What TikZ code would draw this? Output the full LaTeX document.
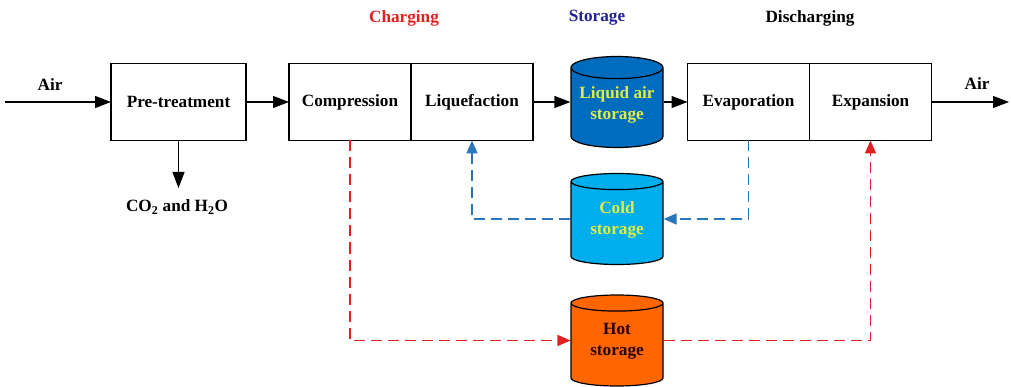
\documentclass[tikz,border=0pt]{standalone}
\usepackage{fontspec}
\setmainfont{Liberation Serif}
\usetikzlibrary{arrows.meta,positioning,shapes.geometric}
\definecolor{chargered}{RGB}{226,32,32}
\definecolor{coldline}{RGB}{42,118,186}
\definecolor{liqblue}{RGB}{0,108,190}
\definecolor{coldblue}{RGB}{0,174,238}
\definecolor{hotorange}{RGB}{255,102,0}
\definecolor{tanktext}{RGB}{222,238,70}
\definecolor{storenavy}{RGB}{34,34,150}
% two lines of tank text, lifted onto the middle of the body
\newcommand{\tanklines}[2]{\raisebox{5pt}[\height][\depth]{\begin{tabular}{@{}c@{}}#1\\#2\end{tabular}}}
\tikzset{>=Triangle}
\tikzset{
  process/.style={draw, line width=1.2pt, minimum width=122, minimum height=77,
    inner sep=0pt, outer sep=0pt},
  tank/.style={cylinder, shape border rotate=90, draw, line width=1.2pt,
    aspect=0.28, minimum height=91, minimum width=92, inner sep=2pt,
    anchor=shape center},
  flow/.style={line width=1.2pt, -{Triangle[length=16pt,width=12pt]}},
  heatflow/.style={chargered, line width=1.7pt, dash pattern=on 11pt off 6pt,
    -{Triangle[length=13pt,width=11pt]}},
  coldflow/.style={coldline, line width=1.7pt, dash pattern=on 11pt off 6pt,
    -{Triangle[length=13pt,width=11pt]}}
}
\begin{document}
\begin{tikzpicture}[x=1pt,y=-1pt,font=\fontsize{17.2}{21}\selectfont\bfseries]
    \useasboundingbox (0,0) rectangle (1011,387);
    % stage titles
    \node[text=chargered] (tcharge) at (404,18) {Charging};
    \node[text=storenavy] (tstore) at (597,18) {Storage};
    \node (tdischarge) at (810,18) {Discharging};
    % process chain
    \node[process, minimum width=135] (pre) at (178.5,102) {Pre-treatment};
    \node[process] (comp) at (350,102) {Compression};
    \node[process, right=0pt of comp] (liq) {Liquefaction};
    \node[process] (evap) at (748.5,102) {Evaporation};
    \node[process, right=0pt of evap] (exp) {Expansion};
    % tanks
    \node[tank, fill=liqblue, text=tanktext] (las) at (617,102) {\tanklines{Liquid air}{storage}};
    \node[tank, fill=coldblue, text=tanktext] (cold) at (617,219) {\tanklines{Cold}{storage}};
    \node[tank, fill=hotorange, text=black!85!red] (hot) at (617,340.5) {\tanklines{Hot}{storage}};
    % air in and out
    \coordinate (airin) at (5,102);
    \coordinate (airout) at (1009,102);
    \coordinate (gasout) at (178.5,188);
    \node (lairin) at (50,85) {Air};
    \node (lairout) at (977,84) {Air};
    \node (gas) at (177,207) {CO\textsubscript{2} and H\textsubscript{2}O};
    \draw[flow] (airin) -- (pre);
    \draw[flow] (pre.south) -- (gasout);
    \draw[flow] (pre) -- (comp);
    \draw[flow] (liq) -- (liq -| las.west);
    \draw[flow] (evap -| las.east) -- (evap);
    \draw[flow] (exp) -- (airout);
    % heat and cold recovery loops
    \draw[heatflow] (comp.south) |- (hot.shape center -| hot.west);
    \draw[heatflow] (hot.shape center -| hot.east) -| (exp.south);
    \draw[coldflow] (evap.south) |- (cold.shape center -| cold.east);
    \draw[coldflow] (cold.shape center -| cold.west) -| (liq.south);
\end{tikzpicture}
\end{document}
